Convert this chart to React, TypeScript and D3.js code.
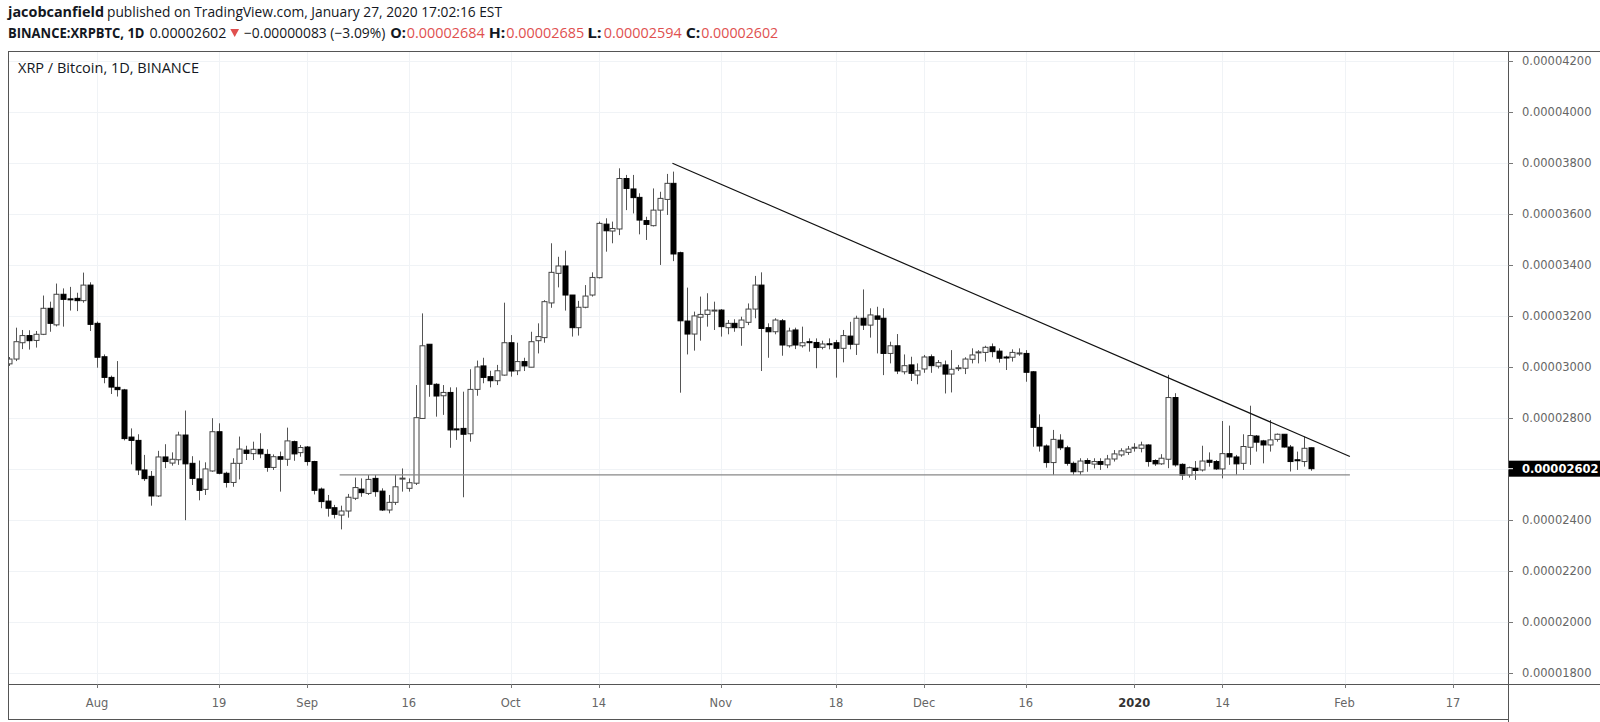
import React from "react";
import * as d3 from "d3";

// ---- data (prices in satoshi: 1 = 0.00000001 BTC) ----
const startDate = new Date(2019, 6, 19); // first candle: Jul 19, 2019
const opens = [
  3013,3032,3096,3124,3105,3129,3231,3166,3286,3268,3270,3261,3322,
  3172,3041,2960,2921,2911,2726,2713,2597,2572,2495,2648,2624,2637,2734,2623,2562,2521,2593,2747,
  2584,2548,2623,2675,2661,2678,2658,2607,2649,2639,2708,2665,
  2687,2630,2522,2475,2449,2420,2436,2486,2522,2505,2564,2514,2440,2470,2562,2525,2545,2799,3090,2933,
  2888,2901,2758,2760,2739,2913,3005,2963,2947,2969,
  3096,2986,3022,3000,3104,3116,3252,3368,3397,3283,3155,3235,3283,3351,3561,3534,3542,3740,3699,3666,3575,3555,3616,
  3658,3721,3449,3181,3130,3196,3207,3222,
  3224,3155,3172,3155,3176,3228,3322,3155,3139,3182,3084,3146,3084,3100,3097,3078,3092,3096,3074,3122,3090,3192,3165,3201,
  3192,3054,3084,2982,3009,2969,
  2993,3041,3004,3009,2973,2996,2996,3031,3058,3058,3080,3063,3040,3039,3054,3054,2982,2764,2691,2626,2714,2684,2623,2590,2634,2620,
  2630,2617,2640,2656,2666,
  2685,2682,2695,2634,2621,2639,2881,2619,2577,2604,2597,2635,2630,2601,2661,2648,2623,2686,2730,2711,2695,2717,2737,2687,2637,2630,2684
];
const highs = [
  3040,3155,3146,3145,3142,3281,3257,3328,3309,3315,3292,3371,3333,
  3179,3050,2967,3024,2915,2760,2737,2656,2593,2672,2698,2666,2747,2830,2651,2634,2627,2800,2780,
  2590,2643,2728,2692,2708,2741,2678,2658,2669,2763,2712,2695,
  2691,2633,2528,2499,2460,2457,2503,2567,2564,2577,2577,2525,2499,2577,2603,2564,2930,3211,3090,2937,
  2930,2921,2921,2904,2992,3026,3037,2986,3009,3253,
  3126,3096,3037,3139,3172,3263,3486,3433,3457,3283,3260,3322,3372,3571,3584,3571,3780,3754,3754,3682,3590,3701,3688,
  3758,3767,3453,3312,3218,3277,3290,3257,
  3228,3185,3188,3198,3250,3358,3372,3172,3192,3189,3155,3155,3159,3113,3113,3104,3113,3107,3146,3178,3202,3305,3231,3237,
  3231,3100,3130,3050,3041,3015,
  3048,3050,3028,3026,3067,3009,3039,3074,3067,3084,3093,3074,3045,3070,3074,3067,2985,2815,2697,2754,2737,2692,2630,2643,2643,2643,
  2643,2656,2675,2682,2691,
  2702,2708,2698,2639,2659,2970,2898,2623,2610,2632,2692,2666,2636,2789,2771,2656,2737,2849,2734,2715,2793,2740,2737,2695,2669,2728,2685
];
const lows = [
  3005,3024,3071,3069,3077,3126,3139,3160,3159,3222,3220,3253,3142,
  2998,2937,2895,2885,2713,2619,2577,2554,2457,2491,2604,2614,2617,2400,2538,2478,2499,2590,2580,
  2528,2531,2560,2636,2636,2643,2590,2597,2512,2613,2633,2649,
  2614,2501,2447,2414,2407,2364,2410,2479,2492,2499,2492,2436,2427,2460,2512,2512,2538,2797,2884,2806,
  2813,2684,2715,2490,2708,2888,2937,2921,2930,2967,
  2963,2969,2985,3000,3054,3096,3233,3313,3222,3120,3124,3231,3277,3348,3453,3486,3518,3616,3603,3521,3499,3552,3401,
  3597,3416,2900,3050,3065,3104,3159,3146,
  3120,3129,3139,3084,3165,3192,2985,3037,3129,3045,3077,3071,3077,3061,2996,3070,3070,2959,3019,3070,3048,3146,3116,3054,
  2969,3015,2973,2972,2946,2933,
  2978,2978,2995,2897,2901,2985,2973,3015,3015,3022,3039,3018,2989,3022,3045,2943,2688,2669,2606,2577,2675,2614,2577,2577,2590,2603,
  2597,2604,2630,2649,2656,
  2669,2666,2610,2613,2617,2604,2610,2558,2567,2558,2591,2610,2597,2564,2617,2578,2597,2617,2669,2623,2669,2708,2685,2591,2597,2610,2594
];
const closes = [
  3032,3100,3124,3104,3129,3231,3172,3286,3266,3267,3261,3322,3168,
  3039,2960,2922,2912,2720,2713,2597,2563,2495,2648,2630,2639,2734,2621,2564,2517,2601,2747,2584,
  2548,2623,2679,2662,2678,2660,2607,2649,2639,2711,2660,2685,
  2630,2517,2473,2447,2423,2436,2490,2528,2508,2560,2512,2440,2470,2531,2565,2547,2802,3084,2933,2887,
  2901,2754,2754,2737,2913,3001,2960,2947,2986,3096,
  2985,3022,3005,3100,3120,3257,3372,3397,3283,3155,3235,3279,3352,3564,3535,3544,3740,3701,3665,3577,3560,3616,3662,
  3721,3444,3182,3130,3201,3207,3224,3224,
  3159,3172,3155,3185,3228,3322,3152,3139,3185,3087,3142,3087,3096,3098,3077,3091,3090,3074,3124,3090,3192,3165,3205,3188,
  3054,3084,2985,3006,2976,2986,
  3040,3006,3018,2973,2992,2998,3032,3048,3060,3078,3061,3035,3038,3058,3056,2980,2764,2691,2626,2717,2684,2623,2590,2632,2623,2630,
  2619,2640,2660,2672,2679,
  2686,2695,2630,2621,2643,2881,2617,2577,2606,2595,2632,2627,2601,2661,2648,2621,2689,2732,2706,2695,2715,2737,2687,2630,2636,2682,2602
];

const yTickValues = [1800, 2000, 2200, 2400, 2600, 2800, 3000, 3200, 3400, 3600, 3800, 4000, 4200];
const xTickDates = [
  new Date(2019, 7, 1), new Date(2019, 7, 19), new Date(2019, 8, 1), new Date(2019, 8, 16),
  new Date(2019, 9, 1), new Date(2019, 9, 14), new Date(2019, 10, 1), new Date(2019, 10, 18),
  new Date(2019, 11, 1), new Date(2019, 11, 16), new Date(2020, 0, 1), new Date(2020, 0, 14),
  new Date(2020, 1, 1), new Date(2020, 1, 17)
];
const xTickLabels = ["Aug", "19", "Sep", "16", "Oct", "14", "Nov", "18", "Dec", "16", "2020", "14", "Feb", "17"];

// drawn lines (date, price)
const trendLine: [Date, number][] = [[new Date(2019, 9, 24, 21), 3800], [new Date(2020, 1, 1, 19), 2650]];
const supportLine: [Date, number][] = [[new Date(2019, 8, 5, 19), 2578], [new Date(2020, 1, 1, 19), 2578]];
const lastPrice = 2602;

const fmt = (v: number) => (v / 1e8).toFixed(8);

export default function App() {
  const W = 1600, H = 722;
  const plotLeft = 8, plotTop = 51, plotRight = 1508, plotBottom = 684;

  const x = d3.scaleTime().domain([new Date(2019, 7, 1), new Date(2020, 1, 17)]).range([97, 1453]);
  const y = d3.scaleLinear().domain([1800, 4200]).range([673.2, 61.2]);

  const candles = opens.map((o, i) => ({
    date: d3.timeDay.offset(startDate, i),
    o, h: highs[i], l: lows[i], c: closes[i],
  }));

  const bw = 5;
  const line = d3.line<[Date, number]>().x(d => x(d[0])).y(d => y(d[1]));

  const hdrFont = "'Liberation Sans Narrow', 'Open Sans', 'Noto Sans', sans-serif";
  const red = "#e0504f";
  const k2 = 0.975;
  const sx = (v: number) => 8 + (v - 8) * k2;
  const seg = (txt: string, x0: number, x1: number, yb: number, fill: string, bold = false) => (
    <text key={txt + x0 + yb} x={x0} y={yb} fontSize={14} fontFamily={hdrFont} fontWeight={bold ? 700 : 400}
      fill={fill} textLength={x1 - x0} lengthAdjust="spacingAndGlyphs">{txt}</text>
  );
  const seg2 = (txt: string, x0: number, x1: number, fill: string, bold = false) =>
    seg(txt, sx(x0), sx(x1), 38, fill, bold);

  return (
    <svg width={W} height={H} style={{ position: "absolute", left: 0, top: 0, background: "#fff" }}
      xmlns="http://www.w3.org/2000/svg">
      <rect x={0} y={0} width={W} height={H} fill="#fff" />
      {/* header */}
      {seg("jacobcanfield", 8, 104, 17, "#131722", true)}
      {seg("published on TradingView.com, January 27, 2020 17:02:16 EST", 107, 502, 17, "#131722")}
      {seg2("BINANCE:XRPBTC, 1D", 8, 148, "#131722", true)}
      {seg2("0.00002602", 153, 232, "#131722")}
      <path d={`M${sx(236)},29 L${sx(245)},29 L${sx(240.5)},37 Z`} fill={red} />
      {seg2("\u22120.00000083 (\u22123.09%)", 250, 395, "#131722")}
      {seg2("O:", 400, 416, "#131722", true)}
      {seg2("0.00002684", 417, 497, red)}
      {seg2("H:", 501, 518, "#131722", true)}
      {seg2("0.00002685", 519, 599, red)}
      {seg2("L:", 602, 617, "#131722", true)}
      {seg2("0.00002594", 619, 699, red)}
      {seg2("C:", 703, 718, "#131722", true)}
      {seg2("0.00002602", 719, 798, red)}

      <defs>
        <clipPath id="plotClip">
          <rect x={plotLeft} y={plotTop} width={plotRight - plotLeft} height={plotBottom - plotTop} />
        </clipPath>
      </defs>

      {/* grid */}
      <g stroke="#f0f3f6" strokeWidth={1}>
        {yTickValues.map(v => (
          <line key={"gy" + v} x1={plotLeft} x2={plotRight} y1={Math.round(y(v)) + 0.5} y2={Math.round(y(v)) + 0.5} />
        ))}
        {xTickDates.map((d, i) => (
          <line key={"gx" + i} x1={Math.round(x(d)) + 0.5} x2={Math.round(x(d)) + 0.5} y1={plotTop} y2={plotBottom} />
        ))}
      </g>

      <text x={18} y={73} fontSize={14} fontFamily={hdrFont} fill="#131722" textLength={181} lengthAdjust="spacingAndGlyphs">XRP / Bitcoin, 1D, BINANCE</text>

      {/* candles */}
      <g clipPath="url(#plotClip)">
        {candles.map((k, i) => {
          const cx = Math.round(x(k.date)) + 0.5;
          const up = k.c >= k.o;
          const top = y(Math.max(k.o, k.c));
          const bot = y(Math.min(k.o, k.c));
          const hgt = Math.max(1, bot - top);
          return (
            <g key={i}>
              <line x1={cx} x2={cx} y1={y(k.h)} y2={y(k.l)} stroke="#555" strokeWidth={1} />
              <rect x={cx - bw / 2} y={top} width={bw} height={hgt}
                fill={up ? "#fff" : "#000"} stroke={up ? "#444" : "#000"} strokeWidth={1} />
            </g>
          );
        })}
        <path d={line(supportLine) ?? ""} stroke="#888" strokeWidth={1.2} fill="none" />
        <path d={line(trendLine) ?? ""} stroke="#111" strokeWidth={1.2} fill="none" />
      </g>

      {/* frame */}
      <g stroke="#555" strokeWidth={1} fill="none">
        <line x1={plotLeft + 0.5} x2={plotLeft + 0.5} y1={plotTop} y2={720} />
        <line x1={plotLeft} x2={W} y1={plotTop + 0.5} y2={plotTop + 0.5} />
        <line x1={plotRight + 0.5} x2={plotRight + 0.5} y1={plotTop} y2={722} />
        <line x1={plotLeft} x2={W} y1={plotBottom + 0.5} y2={plotBottom + 0.5} />
        <line x1={plotLeft} x2={plotRight} y1={719.5} y2={719.5} />
      </g>

      {/* y axis */}
      <g fontFamily="'DejaVu Sans', Verdana, sans-serif" fontSize={11.5} fill="#666">
        {yTickValues.map(v => (
          <g key={"yt" + v}>
            <line x1={plotRight} x2={plotRight + 5} y1={Math.round(y(v)) + 0.5} y2={Math.round(y(v)) + 0.5} stroke="#777" />
            {Math.abs(y(v) - y(lastPrice)) > 14 && <text x={1522} y={y(v) + 4}>{fmt(v)}</text>}
          </g>
        ))}
        <rect x={plotRight + 1} y={y(lastPrice) - 8} width={W - plotRight - 1} height={16} fill="#000" />
        <line x1={plotRight} x2={plotRight + 5} y1={y(lastPrice)} y2={y(lastPrice)} stroke="#fff" />
        <text x={1522} y={y(lastPrice) + 4} fill="#fff" fontWeight={700}>{fmt(lastPrice)}</text>
      </g>

      {/* x axis */}
      <g fontFamily="'DejaVu Sans', Verdana, sans-serif" fontSize={11.5} fill="#666" textAnchor="middle">
        {xTickDates.map((d, i) => (
          <g key={"xt" + i}>
            <line x1={Math.round(x(d)) + 0.5} x2={Math.round(x(d)) + 0.5} y1={plotBottom} y2={plotBottom + 4} stroke="#777" />
            <text x={x(d)} y={707} fontWeight={xTickLabels[i] === "2020" ? 700 : 400}
              fill={xTickLabels[i] === "2020" ? "#333" : "#666"}>{xTickLabels[i]}</text>
          </g>
        ))}
      </g>
    </svg>
  );
}
